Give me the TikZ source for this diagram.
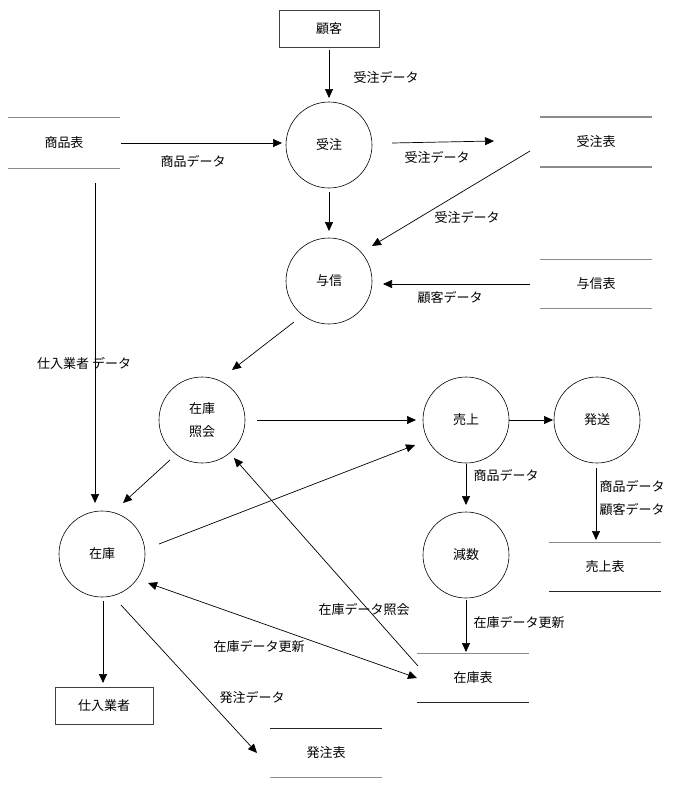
\documentclass[tikz,border=0pt]{standalone}
\usepackage{fontspec}
\setmainfont{Noto Sans CJK JP}
\usetikzlibrary{arrows.meta}
\begin{document}
\begin{tikzpicture}[x=1pt,y=-1pt,
  every node/.style={font=\fontsize{13}{23}\selectfont},
  proc/.style={circle,draw=black,line width=0.6pt,minimum size=86pt,inner sep=0pt,align=center},
  ext/.style={rectangle,draw=black!75,line width=0.9pt,minimum height=37pt,inner sep=0pt},
  store/.style={rectangle,draw=none,minimum width=111pt,minimum height=49pt,inner sep=0pt},
  sgray/.style={draw=black!45,line width=1.5pt},
  sdark/.style={draw=black!85,line width=1pt},
  flow/.style={draw=black,line width=0.7pt,-{Triangle[length=9pt,width=8pt]}},
  bflow/.style={draw=black,line width=0.7pt,{Triangle[length=9pt,width=8pt]}-{Triangle[length=9pt,width=8pt]}},
  lbl/.style={inner sep=0pt}]
\useasboundingbox (0,0) rectangle (673,785);
\fill[white] (0,0) rectangle (673,785);

% external entities
\node[ext,minimum width=100pt] (kokyaku) at (329,29) {顧客};
\node[ext,minimum width=98pt] (shiire) at (104,706) {仕入業者};

% processes
\node[proc] (juchu) at (329,145) {受注};
\node[proc] (yoshin) at (329,281) {与信};
\node[proc] (zshokai) at (202,420) {在庫\\照会};
\node[proc] (uriage) at (466,420) {売上};
\node[proc] (hasso) at (597,420) {発送};
\node[proc] (zaiko) at (102,554) {在庫};
\node[proc] (gensu) at (466,555) {減数};

% data stores
\node[store,minimum height=51pt] (shohinT) at (64,143) {商品表};
\node[store,minimum width=112pt,minimum height=50pt] (juchuT) at (596,142) {受注表};
\node[store] (yoshinT) at (596,284) {与信表};
\node[store,minimum width=112pt] (uriageT) at (605,567) {売上表};
\node[store] (zaikoT) at (473,678) {在庫表};
\node[store] (hacchuT) at (326,753) {発注表};

\draw[sgray] (shohinT.north west) -- (shohinT.north east);
\draw[sgray] (shohinT.south west) -- (shohinT.south east);
\draw[sgray] (juchuT.north west) -- (juchuT.north east);
\draw[sgray] (juchuT.south west) -- (juchuT.south east);
\draw[sgray] (yoshinT.north west) -- (yoshinT.north east);
\draw[sgray] (yoshinT.south west) -- (yoshinT.south east);
\draw[sgray] (uriageT.north west) -- (uriageT.north east);
\draw[sdark] (uriageT.south west) -- (uriageT.south east);
\draw[sgray] (zaikoT.north west) -- (zaikoT.north east);
\draw[sdark] (zaikoT.south west) -- (zaikoT.south east);
\draw[sdark] (hacchuT.north west) -- (hacchuT.north east);
\draw[sgray] (hacchuT.south west) -- (hacchuT.south east);

% flows
\draw[flow] ([shift={(0,21)}]kokyaku.center) -- ([shift={(0,-47)}]juchu.center);
\draw[flow] ([shift={(57,0)}]shohinT.center) -- ([shift={(-47,-2)}]juchu.center);
\draw[flow] ([shift={(63,-2)}]juchu.center) -- ([shift={(-102,-1)}]juchuT.center);
\draw[flow] ([shift={(0,47)}]juchu.center) -- ([shift={(0,-50)}]yoshin.center);
\draw[flow] ([shift={(-66,9)}]juchuT.center) -- ([shift={(43,-35)}]yoshin.center);
\draw[flow] ([shift={(-66,0)}]yoshinT.center) -- ([shift={(54,3)}]yoshin.center);
\draw[flow] ([shift={(-35,41)}]yoshin.center) -- ([shift={(30,-50)}]zshokai.center);
\draw[flow] ([shift={(31,40)}]shohinT.center) -- ([shift={(-7,-51)}]zaiko.center);
\draw[flow] ([shift={(55,0)}]zshokai.center) -- ([shift={(-50,0)}]uriage.center);
\draw[flow] ([shift={(43,0)}]uriage.center) -- ([shift={(-44,0)}]hasso.center);
\draw[flow] ([shift={(-32,40)}]zshokai.center) -- ([shift={(21,-51)}]zaiko.center);
\draw[flow] ([shift={(57,-10)}]zaiko.center) -- ([shift={(-51,25)}]uriage.center);
\draw[flow] ([shift={(0,44)}]uriage.center) -- ([shift={(0,-50)}]gensu.center);
\draw[flow] ([shift={(-1,48)}]hasso.center) -- ([shift={(-9,-27)}]uriageT.center);
\draw[flow] ([shift={(0,45)}]gensu.center) -- ([shift={(-7,-26)}]zaikoT.center);
\draw[flow] ([shift={(-55,-12)}]zaikoT.center) -- ([shift={(32,38)}]zshokai.center);
\draw[bflow] ([shift={(46,29)}]zaiko.center) -- ([shift={(-56,0)}]zaikoT.center);
\draw[flow] ([shift={(1,47)}]zaiko.center) -- ([shift={(-1,-23)}]shiire.center);
\draw[flow] ([shift={(19,51)}]zaiko.center) -- ([shift={(-69,0)}]hacchuT.center);

% labels
\node[lbl] (l1) at (386,77) {受注データ};
\node[lbl] (l2) at (193,161) {商品データ};
\node[lbl] (l3) at (437,157) {受注データ};
\node[lbl] (l4) at (467,217) {受注データ};
\node[lbl] (l5) at (450,297) {顧客データ};
\node[lbl,anchor=west] (l6) at (37,363) {仕入業者 データ};
\node[lbl] (l7) at (506,475) {商品データ};
\node[lbl] (l8) at (632,486) {商品データ};
\node[lbl] (l9) at (632,509) {顧客データ};
\node[lbl] (l10) at (519,622) {在庫データ更新};
\node[lbl] (l11) at (364,610) {在庫データ照会};
\node[lbl] (l12) at (259,646) {在庫データ更新};
\node[lbl] (l13) at (252,698) {発注データ};
\end{tikzpicture}
\end{document}
